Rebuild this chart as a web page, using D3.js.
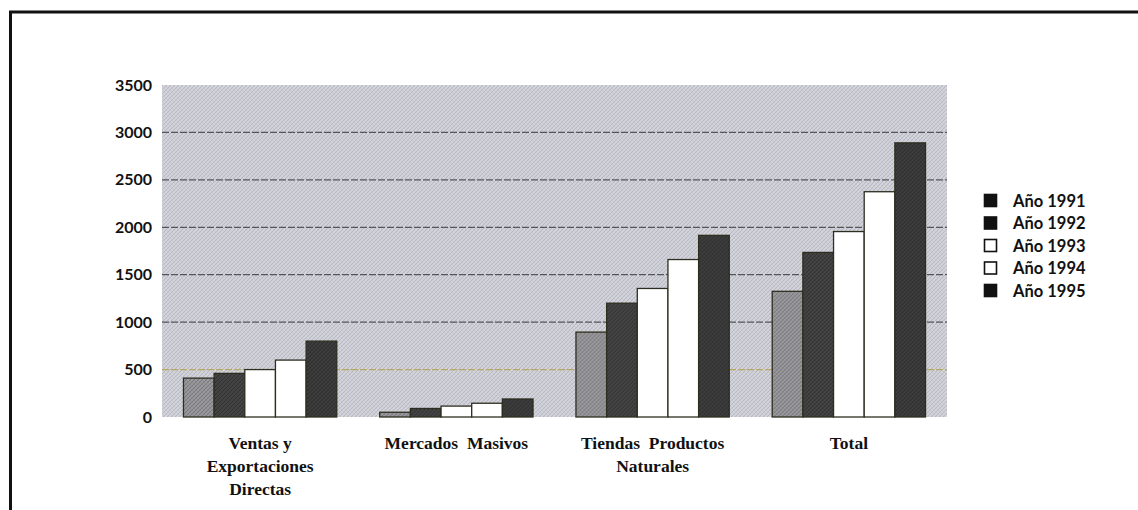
<!DOCTYPE html>
<html>
<head>
<meta charset="utf-8">
<script src="https://cdn.jsdelivr.net/npm/d3@7"></script>
<style>
  html, body { margin: 0; padding: 0; background: #fff; }
  svg { display: block; }
</style>
</head>
<body>
<svg id="chart" width="1138" height="510"></svg>
<script>
// ---- data ----
const categories = [
  ["Ventas y", "Exportaciones", "Directas"],
  ["Mercados  Masivos"],
  ["Tiendas  Productos", "Naturales"],
  ["Total"]
];
const categoryKeys = ["Ventas", "Mercados", "Tiendas", "Total"];
const years = ["Año 1991", "Año 1992", "Año 1993", "Año 1994", "Año 1995"];
const v1991 = [410, 50, 895, 1325];
const v1992 = [460, 90, 1200, 1735];
const v1993 = [500, 115, 1355, 1955];
const v1994 = [600, 145, 1660, 2375];
const v1995 = [800, 190, 1915, 2890];
const series = [v1991, v1992, v1993, v1994, v1995];
const yTicks = [0, 500, 1000, 1500, 2000, 2500, 3000, 3500];

// ---- styles ----
const barFills = ["url(#hatchMid)", "url(#hatchDark)", "#ffffff", "#ffffff", "url(#hatchDark2)"];
const legendFills = ["#111111", "#111111", "#ffffff", "#ffffff", "#111111"];

const svg = d3.select("#chart");
const margin = { left: 162, right: 1138 - 947, top: 85, bottom: 510 - 417 };
const W = 1138, H = 510;

// patterns
const defs = svg.append("defs");
function hatch(id, base, line, lineOpacity) {
  const p = defs.append("pattern").attr("id", id)
    .attr("patternUnits", "userSpaceOnUse").attr("width", 4).attr("height", 4);
  p.append("rect").attr("width", 4).attr("height", 4).attr("fill", base);
  p.append("path").attr("d", "M0,4 L4,0 M-1,1 L1,-1 M3,5 L5,3")
    .attr("stroke", line).attr("stroke-width", 0.9).attr("stroke-opacity", lineOpacity);
  p.append("path").attr("d", "M0,0 L4,4")
    .attr("stroke", line).attr("stroke-width", 0.6).attr("stroke-opacity", lineOpacity * 0.6);
}
hatch("bgHatch", "#d3d4dc", "#a4a4ae", 0.65);
hatch("hatchMid", "#9a9a9e", "#6c6c70", 0.8);
hatch("hatchDark", "#454545", "#2a2a2a", 0.8);
hatch("hatchDark2", "#3e3e3e", "#262626", 0.8);

// frame (top + left)
svg.append("line").attr("x1", 9).attr("x2", W).attr("y1", 12).attr("y2", 12)
  .attr("stroke", "#111").attr("stroke-width", 3);
svg.append("line").attr("x1", 10.5).attr("x2", 10.5).attr("y1", 11).attr("y2", H)
  .attr("stroke", "#111").attr("stroke-width", 3);

// scales
const x = d3.scaleBand().domain(categoryKeys)
  .range([margin.left, W - margin.right]).paddingInner(0).paddingOuter(0);
const xi = d3.scaleBand().domain(d3.range(years.length))
  .range([0, x.bandwidth()]).paddingInner(0).paddingOuter(0.7);
const y = d3.scaleLinear().domain([0, 3500]).range([H - margin.bottom, margin.top]);

// plot background
svg.append("rect")
  .attr("x", margin.left).attr("y", margin.top)
  .attr("width", W - margin.right - margin.left)
  .attr("height", H - margin.bottom - margin.top)
  .attr("fill", "url(#bgHatch)");

// gridlines
svg.append("g").selectAll("line")
  .data(yTicks.filter(t => t > 0 && t < 3500))
  .join("line")
  .attr("x1", margin.left).attr("x2", W - margin.right)
  .attr("y1", d => y(d)).attr("y2", d => y(d))
  .attr("stroke", d => d === 500 ? "#b8a860" : "#55555c")
  .attr("stroke-width", 1.2)
  .attr("stroke-dasharray", "7,2");

// y axis labels
const yAxis = d3.axisLeft(y).tickValues(yTicks).tickFormat(d3.format("d"))
  .tickSize(0).tickPadding(10);
const gy = svg.append("g").attr("transform", `translate(${margin.left},0)`).call(yAxis);
gy.select(".domain").remove();
gy.selectAll("text")
  .attr("font-family", "Lato, 'DejaVu Sans', sans-serif")
  .attr("font-weight", "bold").attr("font-size", 16).attr("fill", "#111");

// bars
const groups = svg.append("g").selectAll("g")
  .data(categoryKeys).join("g")
  .attr("transform", d => `translate(${x(d)},0)`);
groups.selectAll("rect")
  .data((d, ci) => series.map((s, si) => ({ si, v: s[ci] })))
  .join("rect")
  .attr("x", d => xi(d.si))
  .attr("width", xi.bandwidth())
  .attr("y", d => y(d.v))
  .attr("height", d => y(0) - y(d.v))
  .attr("fill", d => barFills[d.si])
  .attr("stroke", "#2e2e20")
  .attr("stroke-width", 1.3);

// category labels
const cl = svg.append("g").selectAll("text")
  .data(categories).join("text")
  .attr("x", (d, i) => x(categoryKeys[i]) + x.bandwidth() / 2)
  .attr("y", 449)
  .attr("text-anchor", "middle")
  .attr("font-family", "'Liberation Serif', 'Times New Roman', serif")
  .attr("font-weight", "bold").attr("font-size", 17.5).attr("fill", "#111")
  .style("white-space", "pre");
cl.selectAll("tspan")
  .data(d => d).join("tspan")
  .attr("x", function () { return d3.select(this.parentNode).attr("x"); })
  .attr("dy", (d, i) => i === 0 ? 0 : 23)
  .text(d => d);

// legend
const lg = svg.append("g").attr("transform", "translate(984,194)");
const items = lg.selectAll("g").data(years).join("g")
  .attr("transform", (d, i) => `translate(0,${i * 22.5})`);
items.append("rect")
  .attr("x", 0.5).attr("y", 0.5).attr("width", 12).attr("height", 12)
  .attr("fill", (d, i) => legendFills[i])
  .attr("stroke", "#111").attr("stroke-width", 1.6);
items.append("text")
  .attr("x", 29).attr("y", 12.5)
  .attr("font-family", "Lato, 'DejaVu Sans', sans-serif")
  .attr("font-weight", "bold").attr("font-size", 16.5).attr("fill", "#111")
  .text(d => d);
</script>
</body>
</html>
